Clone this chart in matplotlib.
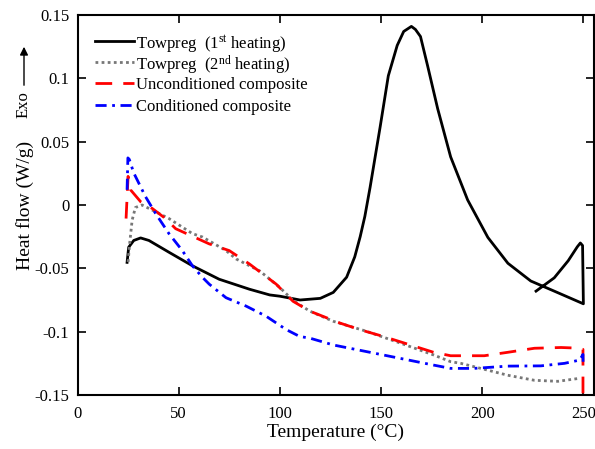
import matplotlib
matplotlib.use("Agg")
import matplotlib.pyplot as plt
from matplotlib.lines import Line2D

plt.rcParams['font.family'] = ['Liberation Serif', 'DejaVu Serif']
plt.rcParams['mathtext.fontset'] = 'custom'
plt.rcParams['mathtext.rm'] = 'Liberation Serif'
plt.rcParams['mathtext.it'] = 'Liberation Serif:italic'
plt.rcParams['axes.unicode_minus'] = False

# Towpreg 1st heating (black solid)
black_T = [24.5, 25.3, 27.8, 31.2, 35.3, 45.2, 56.8, 70, 85, 95, 100, 110, 120, 126.4,
           133, 137, 139.7, 142, 144.6, 149.6, 153.6, 158, 161.2, 165, 167, 169.5, 173,
           178, 184.4, 192.8, 202.8, 212.7, 224, 235.6, 250, 249.6, 248.5, 247, 242.5,
           235.6, 226.6]
black_v = [-0.0453, -0.0333, -0.028, -0.026, -0.028, -0.0373, -0.048, -0.0586, -0.0665,
           -0.071, -0.072, -0.075, -0.0737, -0.069, -0.057, -0.041, -0.025, -0.009, 0.014,
           0.062, 0.102, 0.126, 0.137, 0.141, 0.1386, 0.133, 0.110, 0.076, 0.038, 0.004,
           -0.0256, -0.046, -0.060, -0.068, -0.078, -0.032, -0.030, -0.033, -0.044,
           -0.0575, -0.068]

# Towpreg 2nd heating (gray dotted)
gray_T = [25, 25.8, 27, 28.6, 31.9, 36.9, 40.3, 45.2, 56.8, 61.8, 73.4, 78.4, 90, 99.9,
          106.5, 114.8, 126.4, 143, 159.5, 176, 184.4, 189.4, 199.3, 212.6, 225.8, 237.4,
          247.3]
gray_v = [-0.045, -0.03, -0.012, -0.002, 0.000, -0.004, -0.0067, -0.0107, -0.0226, -0.0253,
          -0.036, -0.0426, -0.052, -0.065, -0.0753, -0.0838, -0.0918, -0.0998, -0.109,
          -0.1184, -0.1237, -0.125, -0.129, -0.1344, -0.1384, -0.1392, -0.137]

# Unconditioned composite (red dashed)
red_T = [24, 25, 26.2, 31.2, 36.9, 43.5, 48.5, 65.1, 75, 85, 98.2, 106.5, 114.8, 129.7,
         139.7, 151.2, 164.5, 176, 184.4, 201, 212.6, 225.8, 239, 247.3, 249.8, 249.8]
red_v = [-0.0107, 0.0226, 0.012, 0.0026, -0.0027, -0.0107, -0.0187, -0.0307, -0.036,
         -0.0466, -0.0625, -0.076, -0.0838, -0.0932, -0.0985, -0.1038, -0.1105, -0.1163,
         -0.119, -0.119, -0.1163, -0.1131, -0.1125, -0.113, -0.114, -0.17]

# Conditioned composite (blue dash-dot)
blue_T = [24.5, 24.9, 25.6, 27.8, 33.6, 38.6, 45.2, 51.8, 56.8, 61.8, 65.1, 73.4, 83.3,
          93.2, 103.2, 109.8, 114.8, 126.4, 143, 159.5, 176, 184.4, 196, 212.6, 229,
          240.7, 248.2, 249.8, 249.9]
blue_v = [0.012, 0.0372, 0.036, 0.0253, 0.0066, -0.0067, -0.0226, -0.036, -0.048, -0.0572,
          -0.0625, -0.0732, -0.0798, -0.0878, -0.0984, -0.1038, -0.1051, -0.1105, -0.1158,
          -0.1211, -0.1264, -0.129, -0.129, -0.1272, -0.127, -0.125, -0.1224, -0.118,
          -0.128]

labels = [r"Towpreg  (1$^{\rm st}$ heating)", r"Towpreg  (2$^{\rm nd}$ heating)",
          "Unconditioned composite", "Conditioned composite"]

xticks = [0, 50, 100, 150, 200, 250]
yticks = [-0.15, -0.1, -0.05, 0, 0.05, 0.1, 0.15]
ytick_labels = ["-0.15", "-0.1", "-0.05", "0", "0.05", "0.1", "0.15"]

W, H = 595, 449
fig = plt.figure(figsize=(W / 100, H / 100), dpi=100)
ax = fig.add_axes([77.5 / W, 1 - 395 / H, 516 / W, 380 / H])

styles = [
    dict(color='black', lw=2.0, ls='-'),
    dict(color='#777777', lw=2.0, ls=(0, (1, 1.2))),
    dict(color='red', lw=2.0, ls=(0, (6, 4))),
    dict(color='blue', lw=2.0, ls=(0, (4, 2, 1, 2))),
]
series = [(black_T, black_v), (gray_T, gray_v), (red_T, red_v), (blue_T, blue_v)]
for (t, v), st, lab in zip(series, styles, labels):
    ax.plot(t, v, label=lab, **st)

ax.set_xlim(0, 255)
ax.set_ylim(-0.15, 0.15)
ax.set_xticks(xticks)
ax.set_yticks(yticks)
ax.set_yticklabels(ytick_labels)
ax.tick_params(direction='in', length=6, width=1.2, top=True, right=True, labelsize=12)
ax.tick_params(axis='x', pad=8)
ax.tick_params(axis='y', pad=6)
for s in ax.spines.values():
    s.set_linewidth(1.5)

ax.set_xlabel("Temperature (°C)", fontsize=14)
ax.set_ylabel("Heat flow (W/g)", fontsize=14)
ax.yaxis.set_label_coords((34 - 77.5) / 516, 0.5)
ax.xaxis.set_label_coords(0.5, -0.075)

# Legend (manual layout, no frame)
rows = [41, 62, 83, 105]
for y, st, lab in zip(rows, styles, labels):
    fig.add_artist(Line2D([95 / W, 134 / W], [1 - y / H, 1 - y / H],
                          transform=fig.transFigure, **st))
    fig.text(136 / W, 1 - y / H, lab, fontsize=12, ha='left', va='center_baseline')

# Exo arrow
fig.text(24 / W, 1 - 105 / H, "Exo", rotation=90, ha='center', va='center', fontsize=12)
ax.annotate("", xy=(24 / W, 1 - 44 / H), xytext=(24 / W, 1 - 88 / H),
            xycoords='figure fraction', textcoords='figure fraction',
            arrowprops=dict(arrowstyle='-|>', color='black', lw=1.0, mutation_scale=12))

fig.savefig("out.png", dpi=100)
